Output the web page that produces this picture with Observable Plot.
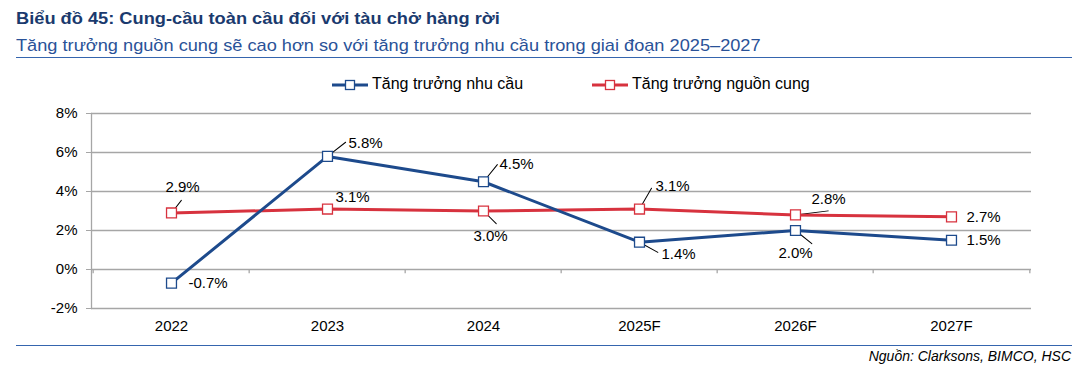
<!DOCTYPE html>
<html>
<head>
<meta charset="utf-8">
<script src="https://cdn.jsdelivr.net/npm/d3@7"></script>
<script src="https://cdn.jsdelivr.net/npm/@observablehq/plot@0.6"></script>
<style>
  html, body { margin: 0; padding: 0; background: #fff; }
  body { width: 1083px; height: 371px; position: relative; overflow: hidden; font-family: "Liberation Sans", Arial, sans-serif; }
  .abs { position: absolute; white-space: nowrap; }
  #title { left: 16px; top: 10px; font-size: 16px; font-weight: bold; color: #1A3A6E; line-height: 18px; transform: scaleX(1.14); transform-origin: left center; }
  #subtitle { left: 16px; top: 36px; font-size: 17px; color: #2A5298; line-height: 20px; transform: scaleX(1.07); transform-origin: left center; }
  .rule { position: absolute; left: 16px; width: 1056px; height: 0; border-top: 1px solid #3565AE; }
  #legend { left: 0; top: 74px; font-size: 16px; color: #000; line-height: 20px; }
  #chart { left: 0; top: 96px; }
  #source { right: 12px; top: 348px; font-size: 14px; font-style: italic; color: #000; line-height: 16px; }
</style>
</head>
<body>
<div id="title" class="abs"></div>
<div id="subtitle" class="abs"></div>
<div class="rule" style="top:57px"></div>
<div id="legend" class="abs"></div>
<div id="chart" class="abs"></div>
<div class="rule" style="top:345px"></div>
<div id="source" class="abs"></div>
<script>
// ---- data ----
const titleText = "Biểu đồ 45: Cung-cầu toàn cầu đối với tàu chở hàng rời";
const subtitleText = "Tăng trưởng nguồn cung sẽ cao hơn so với tăng trưởng nhu cầu trong giai đoạn 2025–2027";
const sourceText = "Nguồn: Clarksons, BIMCO, HSC";
const seriesNames = ["Tăng trưởng nhu cầu", "Tăng trưởng nguồn cung"];
const categories = ["2022", "2023", "2024", "2025F", "2026F", "2027F"];
const demand = [-0.7, 5.8, 4.5, 1.4, 2.0, 1.5];
const supply = [2.9, 3.1, 3.0, 3.1, 2.8, 2.7];
const yTicks = [-2, 0, 2, 4, 6, 8];

// ---- styles / layout ----
const BLUE = "#1D4A8C";
const RED = "#D7323E";
const GRID = "#A6A6A6";
// label placement per point: [dx, dy, anchor, leaderLength, leaderAngle]
const demandLabelPos = [
  [17, 0, "start", 0, 0],
  [21, -13, "start", 23, 52],
  [16, -18, "start", 22, 39],
  [22, 12, "start", 21, 119],
  [0, 23, "middle", 21, 129],
  [15, 0, "start", 0, 0]
];
const supplyLabelPos = [
  [11, -26, "middle", 16, 38],
  [8, -12, "start", 25, 90],
  [7, 25, "middle", 18, 135],
  [16, -23, "start", 24, 30],
  [16, -16, "start", 33, 83],
  [15, 0, "start", 0, 0]
];

document.getElementById("title").textContent = titleText;
document.getElementById("subtitle").textContent = subtitleText;
document.getElementById("source").textContent = sourceText;

// legend
function swatch(color) {
  return `<svg width="36" height="14" style="vertical-align:middle"><line x1="0" x2="36" y1="7" y2="7" stroke="${color}" stroke-width="3"/><rect x="13.5" y="2.5" width="9" height="9" fill="#fff" stroke="${color}" stroke-width="1.3"/></svg>`;
}
document.getElementById("legend").innerHTML =
  `<span class="abs" style="left:332px;top:0">${swatch(BLUE)}<span style="margin-left:4px">${seriesNames[0]}</span></span>` +
  `<span class="abs" style="left:592px;top:0">${swatch(RED)}<span style="margin-left:4px">${seriesNames[1]}</span></span>`;

const demandRows = categories.map((c, i) => ({cat: c, v: demand[i], pos: demandLabelPos[i]}));
const supplyRows = categories.map((c, i) => ({cat: c, v: supply[i], pos: supplyLabelPos[i]}));

const W = 1083, ML = 91, MR = 52;
const step = (W - ML - MR) / categories.length;

const leaderShape = { draw(context, l) { context.moveTo(0, 0); context.lineTo(0, -l); } };

function labelMarks(rows) {
  return rows.map(r => Plot.text([r], {
    x: "cat", y: "v",
    text: d => d.v.toFixed(1) + "%",
    dx: r.pos[0], dy: r.pos[1], textAnchor: r.pos[2],
    fontSize: 15, fill: "#000"
  }));
}
function leaderMark(rows) {
  return Plot.vector(rows.filter(r => r.pos[3] > 0), {
    x: "cat", y: "v",
    length: d => d.pos[3], rotate: d => d.pos[4],
    anchor: "start", shape: leaderShape,
    stroke: "#000", strokeWidth: 1
  });
}

const chart = Plot.plot({
  width: W, height: 250,
  marginLeft: ML, marginRight: MR, marginTop: 17, marginBottom: 38,
  x: {type: "point", domain: categories, padding: 0.5},
  y: {domain: [-2, 8]},
  length: {type: "identity"},
  style: {fontFamily: "'Liberation Sans', Arial, sans-serif", fontSize: "15px", color: "#000", background: "transparent"},
  marks: [
    Plot.ruleY(yTicks, {stroke: GRID, strokeWidth: 1.3}),
    Plot.frame({anchor: "left", stroke: GRID, strokeWidth: 1.3}),
    Plot.ruleX(categories, {x: d => d, y1: 0, y2: -0.22, dx: -step / 2, stroke: GRID, strokeWidth: 1.3}),
    Plot.ruleX(categories.slice(-1), {x: d => d, y1: 0, y2: -0.22, dx: step / 2, stroke: GRID, strokeWidth: 1.3}),
    Plot.axisY({ticks: yTicks, tickSize: 5, tickPadding: 9, tickFormat: d => d + "%", stroke: GRID, fill: "#000", fontSize: 15, label: null}),
    Plot.axisX({tickSize: 0, tickPadding: 12, fontSize: 15, label: null, fill: "#000"}),
    leaderMark(demandRows),
    leaderMark(supplyRows),
    Plot.line(supplyRows, {x: "cat", y: "v", stroke: RED, strokeWidth: 3}),
    Plot.line(demandRows, {x: "cat", y: "v", stroke: BLUE, strokeWidth: 3}),
    Plot.dot(supplyRows, {x: "cat", y: "v", symbol: "square", r: 5.6, fill: "#fff", stroke: RED, strokeWidth: 1.3}),
    Plot.dot(demandRows, {x: "cat", y: "v", symbol: "square", r: 5.6, fill: "#fff", stroke: BLUE, strokeWidth: 1.3}),
    ...labelMarks(demandRows),
    ...labelMarks(supplyRows)
  ]
});
document.getElementById("chart").appendChild(chart);
</script>
</body>
</html>
